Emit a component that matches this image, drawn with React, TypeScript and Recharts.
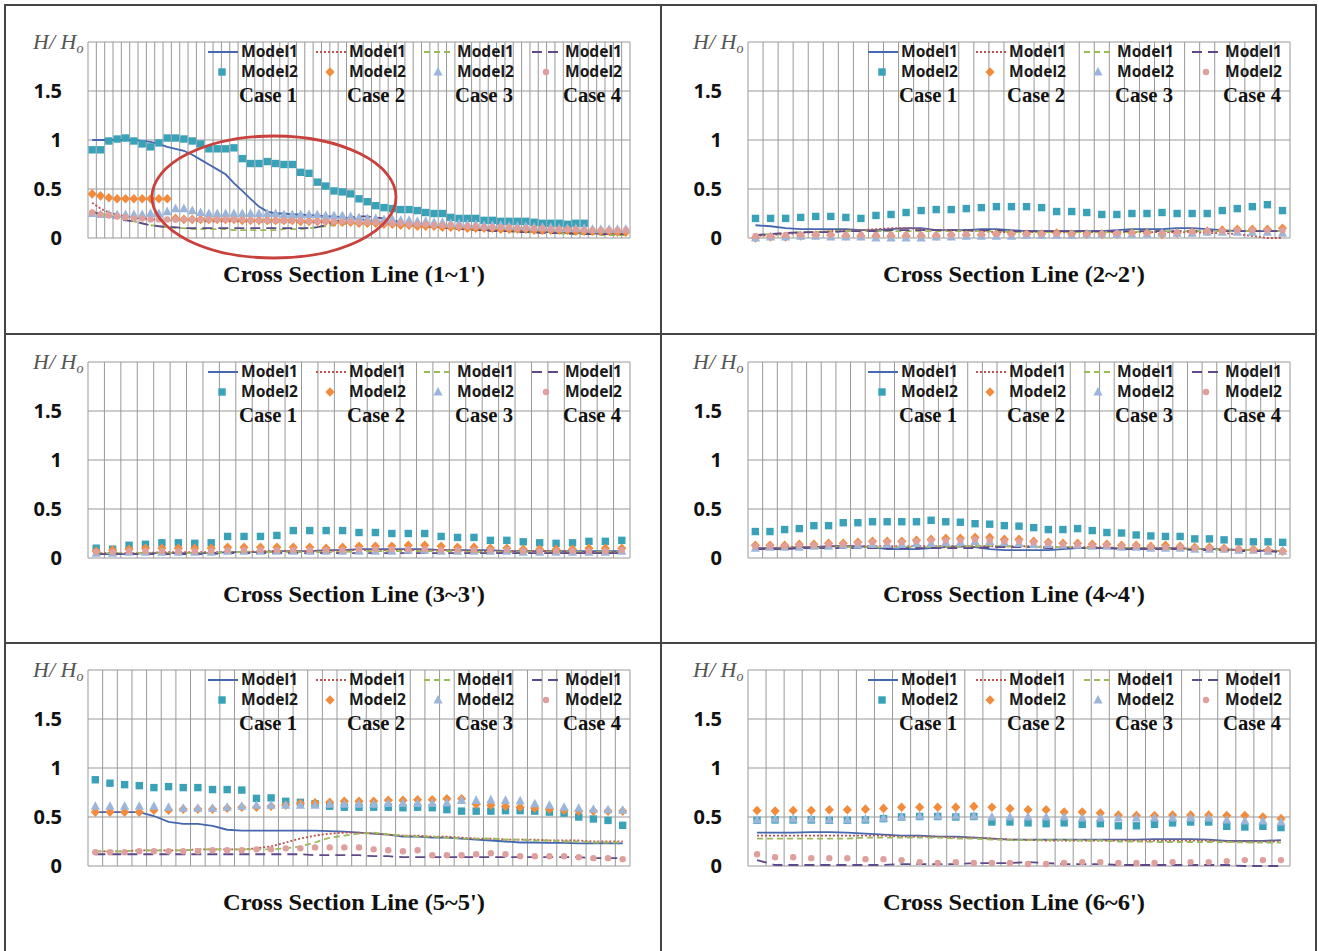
import React from 'react';
import { ComposedChart, Line, XAxis, YAxis, CartesianGrid, Legend } from 'recharts';

// ---------- DATA ----------
// Panel 1 : Cross Section Line (1~1')
const P1_M1C1 = [1.0,1.0,1.0,1.0,1.0,1.0,0.99,0.98,0.96,0.93, 0.91,0.89,0.85,0.80,0.75,0.70,0.65,0.56,0.48,0.40, 0.32,0.27,0.25,0.25,0.24,0.24,0.23,0.23,0.22,0.22, 0.21,0.20,0.19,0.18,0.17,0.16,0.15,0.14,0.13,0.12, 0.12,0.11,0.11,0.10,0.10,0.09,0.09,0.08,0.08,0.08, 0.07,0.07,0.07,0.06,0.06,0.06,0.05,0.05,0.05,0.05, 0.05,0.04,0.04,0.04,0.04];
const P1_M2C1 = [0.90,0.90,0.99,1.01,1.02,0.99,0.96,0.93,0.97,1.02, 1.02,1.01,0.99,0.96,0.91,0.91,0.91,0.92,0.81,0.76, 0.76,0.78,0.76,0.75,0.75,0.67,0.66,0.57,0.53,0.48, 0.47,0.45,0.40,0.37,0.33,0.31,0.30,0.29,0.29,0.28, 0.26,0.25,0.25,0.21,0.20,0.20,0.20,0.18,0.18,0.17, 0.17,0.17,0.17,0.16,0.15,0.15,0.15,0.14,0.15,0.15, null,null,null,null,null];
const P1_M1C2 = [0.36,0.30,0.26,0.24,0.22,0.21,0.20,0.19,0.19,0.18, 0.18,0.18,0.18,0.17,0.17,0.17,0.17,0.17,0.17,0.17, 0.17,0.16,0.16,0.16,0.16,0.16,0.16,0.16,0.16,0.16, 0.16,0.16,0.15,0.15,0.15,0.14,0.14,0.13,0.13,0.12, 0.12,0.11,0.11,0.10,0.10,0.10,0.09,0.09,0.09,0.08, 0.08,0.08,0.07,0.07,0.07,0.07,0.06,0.06,0.06,0.06, 0.06,0.05,0.05,0.05,0.05];
const P1_M2C2 = [0.45,0.43,0.41,0.40,0.40,0.40,0.40,0.40,0.40,0.40, 0.20,0.19,0.19,0.19,0.19,0.19,0.19,0.19,0.18,0.18, 0.18,0.18,0.18,0.18,0.18,0.17,0.17,0.17,0.17,0.16, 0.16,0.16,0.15,0.15,0.15,0.14,0.14,0.13,0.13,0.12, 0.12,0.12,0.11,0.11,0.11,0.10,0.10,0.10,0.10,0.09, 0.09,0.09,0.09,0.08,0.08,0.08,0.08,0.08,0.07,0.07, 0.07,0.07,0.07,0.06,0.06];
const P1_M1C3 = [0.27,0.25,0.23,0.21,0.19,0.17,0.15,0.13,0.12,0.11, 0.10,0.10,0.09,0.09,0.09,0.09,0.09,0.08,0.08,0.08, 0.08,0.08,0.08,0.09,0.09,0.09,0.10,0.11,0.12,0.13, 0.14,0.15,0.15,0.15,0.15,0.14,0.14,0.13,0.13,0.12, 0.12,0.11,0.10,0.10,0.09,0.09,0.08,0.08,0.07,0.07, 0.07,0.06,0.06,0.06,0.05,0.05,0.05,0.04,0.04,0.04, 0.04,0.03,0.03,0.03,0.03];
const P1_M2C3 = [0.25,0.24,0.24,0.24,0.24,0.24,0.24,0.25,0.25,0.27, 0.30,0.30,0.28,0.26,0.25,0.25,0.25,0.25,0.25,0.25, 0.25,0.25,0.25,0.24,0.24,0.24,0.24,0.24,0.23,0.23, 0.23,0.22,0.21,0.20,0.20,0.19,0.19,0.18,0.18,0.17, 0.17,0.16,0.16,0.15,0.15,0.14,0.14,0.13,0.13,0.13, 0.12,0.12,0.12,0.11,0.11,0.11,0.10,0.10,0.10,0.10, 0.09,0.09,0.09,0.09,0.09];
const P1_M1C4 = [0.27,0.24,0.22,0.20,0.18,0.17,0.15,0.13,0.12,0.11, 0.11,0.10,0.10,0.10,0.10,0.10,0.10,0.10,0.10,0.10, 0.10,0.10,0.10,0.10,0.10,0.10,0.10,0.11,0.13,0.16, 0.19,0.21,0.22,0.22,0.21,0.20,0.18,0.16,0.14,0.13, 0.12,0.11,0.10,0.10,0.09,0.09,0.08,0.08,0.07,0.07, 0.07,0.06,0.06,0.06,0.05,0.05,0.05,0.05,0.04,0.04, 0.04,0.04,0.04,0.04,0.04];
const P1_M2C4 = [0.26,0.24,0.23,0.22,0.21,0.20,0.20,0.19,0.19,0.19, 0.19,0.19,0.19,0.19,0.19,0.19,0.19,0.19,0.19,0.18, 0.18,0.18,0.18,0.18,0.18,0.18,0.17,0.17,0.17,0.17, 0.17,0.17,0.16,0.16,0.16,0.15,0.15,0.15,0.14,0.14, 0.14,0.13,0.13,0.13,0.12,0.12,0.12,0.11,0.11,0.11, 0.11,0.10,0.10,0.10,0.10,0.09,0.09,0.09,0.09,0.08, 0.08,0.08,0.08,0.08,0.08];

// Panel 2 : Cross Section Line (2~2')
const P2_M1C1 = [0.13,0.12,0.10,0.09,0.09,0.09,0.09,0.08,0.08,0.09, 0.10,0.10,0.08,0.08,0.08,0.09,0.09,0.08,0.07,0.07, 0.07,0.07,0.07,0.07,0.08,0.09,0.09,0.09,0.10,0.10, 0.09,0.08,0.07,0.07,0.07,0.07];
const P2_M2C1 = [0.20,0.20,0.20,0.21,0.22,0.22,0.21,0.20,0.23,0.24, 0.26,0.28,0.29,0.29,0.30,0.31,0.32,0.32,0.32,0.31, 0.27,0.27,0.26,0.24,0.24,0.25,0.25,0.26,0.25,0.25, 0.25,0.28,0.30,0.32,0.34,0.28];
const P2_M1C2 = [0.02,0.03,0.04,0.05,0.06,0.07,0.08,0.08,0.09,0.10, 0.10,0.09,0.08,0.08,0.07,0.07,0.06,0.06,0.06,0.06, 0.06,0.06,0.06,0.06,0.06,0.06,0.06,0.06,0.06,0.06, 0.05,0.05,0.04,0.02,0.0,0.0];
const P2_M2C2 = [0.0,0.01,0.01,0.02,0.03,0.03,0.02,0.02,0.02,0.02, 0.02,0.02,0.02,0.03,0.03,0.03,0.04,0.04,0.04,0.04, 0.05,0.04,0.04,0.04,0.04,0.05,0.05,0.04,0.05,0.06, 0.07,0.08,0.09,0.09,0.09,0.10];
const P2_M1C3 = [0.03,0.04,0.05,0.06,0.06,0.07,0.07,0.07,0.07,0.07, 0.07,0.07,0.07,0.07,0.07,0.07,0.07,0.06,0.06,0.06, 0.06,0.06,0.06,0.06,0.06,0.06,0.07,0.07,0.07,0.07, 0.07,0.07,0.07,0.07,0.07,0.07];
const P2_M2C3 = [0.0,0.01,0.01,0.02,0.02,0.01,0.01,0.01,0.0,0.0, 0.0,0.0,0.01,0.01,0.02,0.02,0.02,0.02,0.03,0.03, 0.03,0.03,0.04,0.04,0.04,0.04,0.04,0.05,0.05,0.05, 0.06,0.06,0.06,0.06,0.06,0.05];
const P2_M1C4 = [0.03,0.04,0.05,0.06,0.06,0.06,0.07,0.07,0.07,0.08, 0.08,0.08,0.08,0.08,0.08,0.08,0.08,0.07,0.07,0.07, 0.07,0.07,0.07,0.07,0.07,0.07,0.07,0.07,0.07,0.07, 0.07,0.07,0.07,0.07,0.07,0.07];
const P2_M2C4 = [0.02,0.02,0.03,0.03,0.03,0.03,0.03,0.03,0.03,0.03, 0.03,0.03,0.03,0.03,0.04,0.04,0.04,0.04,0.04,0.04, 0.04,0.04,0.04,0.04,0.05,0.05,0.05,0.05,0.06,0.06, 0.07,0.07,0.08,0.08,0.08,0.08];

// Panel 3 : Cross Section Line (3~3')
const P3_M1C1 = [0.04,0.04,0.04,0.05,0.05,0.05,0.05,0.05,0.06,0.06, 0.06,0.07,0.07,0.07,0.08,0.08,0.09,0.09,0.09,0.09, 0.09,0.08,0.08,0.08,0.08,0.07,0.07,0.07,0.07,0.07, 0.07,0.07,0.07];
const P3_M2C1 = [0.10,0.09,0.13,0.14,0.155,0.155,0.15,0.155,0.22,0.22, 0.22,0.23,0.28,0.28,0.28,0.28,0.26,0.26,0.25,0.25, 0.25,0.22,0.21,0.21,0.18,0.18,0.165,0.155,0.15,0.155, 0.17,0.17,0.18];
const P3_M1C2 = [0.05,0.05,0.05,0.05,0.06,0.06,0.06,0.06,0.06,0.06, 0.07,0.07,0.07,0.07,0.07,0.08,0.08,0.08,0.08,0.08, 0.08,0.08,0.08,0.07,0.07,0.07,0.07,0.07,0.07,0.06, 0.06,0.06,0.06];
const P3_M2C2 = [0.07,0.08,0.09,0.10,0.10,0.10,0.10,0.10,0.11,0.11, 0.11,0.11,0.11,0.11,0.10,0.11,0.12,0.12,0.12,0.13, 0.13,0.12,0.11,0.11,0.10,0.10,0.09,0.09,0.09,0.09, 0.10,0.10,0.10];
const P3_M1C3 = [0.05,0.05,0.05,0.05,0.05,0.05,0.05,0.05,0.06,0.06, 0.06,0.06,0.06,0.06,0.06,0.06,0.07,0.07,0.07,0.07, 0.07,0.07,0.07,0.06,0.06,0.06,0.06,0.06,0.06,0.06, 0.06,0.06,0.06];
const P3_M2C3 = [0.05,0.05,0.06,0.06,0.06,0.06,0.06,0.06,0.07,0.07, 0.07,0.07,0.07,0.07,0.07,0.07,0.07,0.07,0.07,0.08, 0.08,0.07,0.07,0.07,0.07,0.07,0.06,0.06,0.06,0.06, 0.06,0.06,0.07];
const P3_M1C4 = [0.04,0.04,0.04,0.04,0.04,0.04,0.04,0.04,0.05,0.05, 0.05,0.05,0.05,0.05,0.05,0.05,0.05,0.05,0.05,0.05, 0.05,0.05,0.05,0.05,0.05,0.05,0.05,0.05,0.05,0.05, 0.05,0.05,0.05];
const P3_M2C4 = [0.06,0.06,0.07,0.07,0.07,0.07,0.07,0.07,0.08,0.08, 0.08,0.08,0.08,0.08,0.08,0.08,0.09,0.09,0.09,0.09, 0.09,0.08,0.08,0.08,0.08,0.08,0.07,0.07,0.07,0.07, 0.07,0.07,0.08];

// Panel 4 : Cross Section Line (4~4')
const P4_M1C1 = [0.10,0.10,0.10,0.11,0.11,0.12,0.12,0.12,0.11,0.09, 0.09,0.09,0.10,0.11,0.12,0.11,0.09,0.08,0.08,0.08, 0.08,0.09,0.10,0.10,0.10,0.10,0.10,0.10,0.10,0.10, 0.09,0.09,0.09,0.08,0.08,0.07,0.07];
const P4_M2C1 = [0.27,0.27,0.29,0.30,0.33,0.33,0.36,0.36,0.37,0.37, 0.37,0.37,0.385,0.37,0.365,0.35,0.345,0.33,0.325,0.31, 0.29,0.29,0.30,0.28,0.26,0.255,0.235,0.225,0.22,0.22, 0.195,0.195,0.185,0.165,0.165,0.165,0.16];
const P4_M1C2 = [0.10,0.10,0.11,0.11,0.11,0.12,0.12,0.12,0.12,0.12, 0.12,0.12,0.12,0.12,0.12,0.12,0.12,0.12,0.12,0.12, 0.11,0.11,0.11,0.11,0.11,0.10,0.10,0.10,0.10,0.10, 0.09,0.09,0.09,0.08,0.08,0.08,0.07];
const P4_M2C2 = [0.13,0.13,0.13,0.14,0.14,0.15,0.15,0.16,0.17,0.17, 0.17,0.18,0.19,0.20,0.20,0.21,0.21,0.19,0.19,0.17, 0.16,0.15,0.15,0.14,0.14,0.13,0.13,0.12,0.13,0.12, 0.11,0.11,0.10,0.09,0.09,0.08,0.07];
const P4_M1C3 = [0.09,0.09,0.10,0.10,0.10,0.11,0.11,0.11,0.11,0.11, 0.11,0.11,0.11,0.11,0.12,0.12,0.12,0.12,0.12,0.11, 0.11,0.11,0.11,0.10,0.10,0.10,0.10,0.10,0.09,0.09, 0.09,0.09,0.08,0.08,0.08,0.07,0.07];
const P4_M2C3 = [0.10,0.11,0.11,0.11,0.12,0.12,0.13,0.13,0.14,0.14, 0.14,0.15,0.15,0.16,0.16,0.17,0.17,0.16,0.15,0.14, 0.14,0.13,0.13,0.12,0.12,0.11,0.11,0.10,0.10,0.10, 0.09,0.09,0.09,0.08,0.08,0.07,0.07];
const P4_M1C4 = [0.09,0.09,0.09,0.10,0.10,0.10,0.10,0.10,0.10,0.10, 0.10,0.10,0.10,0.10,0.10,0.10,0.11,0.11,0.11,0.11, 0.10,0.10,0.10,0.10,0.10,0.09,0.09,0.09,0.09,0.09, 0.08,0.08,0.08,0.07,0.07,0.07,0.06];
const P4_M2C4 = [0.12,0.12,0.12,0.13,0.13,0.14,0.14,0.15,0.16,0.16, 0.16,0.17,0.18,0.18,0.18,0.19,0.18,0.17,0.17,0.16, 0.15,0.14,0.14,0.13,0.13,0.12,0.12,0.11,0.11,0.11, 0.10,0.10,0.09,0.09,0.08,0.08,0.07];

// Panel 5 : Cross Section Line (5~5')
const P5_M1C1 = [0.55,0.55,0.55,0.55,0.51,0.45,0.43,0.43,0.41,0.37, 0.36,0.36,0.36,0.36,0.36,0.36,0.355,0.35,0.34,0.33, 0.32,0.30,0.30,0.29,0.29,0.28,0.27,0.26,0.25,0.24, 0.24,0.235,0.235,0.23,0.23,0.23,0.23];
const P5_M2C1 = [0.88,0.845,0.83,0.82,0.80,0.81,0.80,0.80,0.78,0.78, 0.775,0.69,0.695,0.66,0.65,0.635,0.61,0.60,0.60,0.60, 0.60,0.595,0.60,0.595,0.575,0.56,0.56,0.56,0.565,0.565, 0.56,0.55,0.54,0.50,0.48,0.465,0.415];
const P5_M1C2 = [0.15,0.15,0.15,0.16,0.16,0.16,0.16,0.17,0.17,0.17, 0.17,0.18,0.20,0.24,0.28,0.31,0.33,0.34,0.34,0.33, 0.32,0.31,0.31,0.30,0.30,0.29,0.28,0.28,0.27,0.27, 0.27,0.26,0.26,0.26,0.25,0.25,0.25];
const P5_M2C2 = [0.55,0.55,0.55,0.55,0.57,0.57,0.58,0.58,0.58,0.59, 0.60,0.60,0.61,0.62,0.64,0.645,0.65,0.66,0.66,0.66, 0.67,0.67,0.675,0.675,0.685,0.685,0.63,0.62,0.61,0.60, 0.59,0.58,0.57,0.56,0.56,0.56,0.56];
const P5_M1C3 = [0.15,0.15,0.15,0.16,0.16,0.16,0.16,0.17,0.17,0.17, 0.17,0.17,0.17,0.18,0.20,0.24,0.29,0.31,0.33,0.34, 0.32,0.31,0.30,0.30,0.29,0.28,0.28,0.28,0.27,0.27, 0.26,0.26,0.25,0.25,0.24,0.24,0.24];
const P5_M2C3 = [0.61,0.61,0.61,0.61,0.61,0.60,0.59,0.59,0.59,0.60, 0.61,0.62,0.62,0.62,0.62,0.62,0.63,0.63,0.63,0.63, 0.64,0.64,0.64,0.64,0.645,0.67,0.67,0.675,0.67,0.665, 0.635,0.62,0.60,0.59,0.58,0.575,0.57];
const P5_M1C4 = [0.12,0.12,0.12,0.12,0.12,0.12,0.12,0.12,0.12,0.12, 0.12,0.12,0.12,0.12,0.12,0.11,0.11,0.11,0.11,0.10, 0.10,0.09,0.09,0.09,0.09,0.09,0.09,0.09,0.09,0.09, 0.09,0.09,0.09,0.09,0.08,0.08,0.08];
const P5_M2C4 = [0.14,0.14,0.14,0.15,0.15,0.15,0.15,0.15,0.16,0.16, 0.16,0.17,0.17,0.18,0.18,0.19,0.19,0.19,0.19,0.17, 0.16,0.15,0.16,0.11,0.11,0.11,0.12,0.13,0.12,0.10, 0.10,0.10,0.10,0.09,0.08,0.08,0.07];

// Panel 6 : Cross Section Line (6~6')
const P6_M1C1 = [0.34,0.34,0.34,0.345,0.345,0.34,0.33,0.32,0.31,0.31, 0.30,0.30,0.29,0.28,0.27,0.27,0.27,0.27,0.27,0.27, 0.27,0.27,0.275,0.275,0.275,0.27,0.255,0.255,0.255,0.265];
const P6_M2C1 = [0.466,0.47,0.47,0.47,0.466,0.466,0.47,0.483,0.50,0.505, 0.505,0.50,0.505,0.449,0.449,0.44,0.432,0.44,0.425,0.432, 0.41,0.41,0.425,0.44,0.449,0.449,0.405,0.398,0.405,0.392];
const P6_M1C2 = [0.31,0.31,0.31,0.31,0.31,0.31,0.31,0.31,0.30,0.30, 0.30,0.29,0.29,0.28,0.27,0.265,0.26,0.26,0.26,0.26, 0.26,0.26,0.26,0.26,0.26,0.26,0.25,0.25,0.25,0.25];
const P6_M2C2 = [0.567,0.56,0.567,0.567,0.574,0.574,0.58,0.588,0.60,0.60, 0.60,0.60,0.608,0.60,0.585,0.574,0.574,0.55,0.55,0.54, 0.52,0.515,0.515,0.52,0.52,0.52,0.515,0.515,0.50,0.483];
const P6_M1C3 = [0.28,0.28,0.28,0.28,0.28,0.28,0.29,0.29,0.29,0.29, 0.29,0.28,0.28,0.27,0.265,0.265,0.265,0.265,0.26,0.26, 0.25,0.25,0.245,0.245,0.245,0.245,0.245,0.24,0.24,0.24];
const P6_M2C3 = [0.47,0.48,0.48,0.48,0.47,0.47,0.48,0.49,0.50,0.51, 0.51,0.51,0.51,0.50,0.50,0.50,0.50,0.50,0.49,0.49, 0.49,0.49,0.49,0.49,0.49,0.49,0.47,0.46,0.46,0.45];
const P6_M1C4 = [0.06,0.01,0.01,0.01,0.01,0.01,0.01,0.01,0.02,0.02, 0.02,0.02,0.03,0.03,0.03,0.04,0.03,0.02,0.02,0.02, 0.01,0.01,0.01,0.01,0.01,0.01,0.01,0.0,0.0,0.0];
const P6_M2C4 = [0.12,0.09,0.09,0.08,0.08,0.08,0.07,0.07,0.06,0.04, 0.03,0.04,0.03,0.03,0.03,0.02,0.02,0.03,0.04,0.04, 0.03,0.03,0.03,0.04,0.04,0.04,0.05,0.06,0.06,0.06];

const Y_TICKS = [0, 0.5, 1, 1.5, 2];
const Y_TICK_LABELS = ['0', '0.5', '1', '1.5', ''];
const CASE_LABELS = ['Case 1', 'Case 2', 'Case 3', 'Case 4'];
const MODEL_LABELS = ['Model1', 'Model2'];
const PANEL_TITLES = [
  "Cross Section Line (1~1')",
  "Cross Section Line (2~2')",
  "Cross Section Line (3~3')",
  "Cross Section Line (4~4')",
  "Cross Section Line (5~5')",
  "Cross Section Line (6~6')",
];

// ---------- STYLE ----------
const LINE_COLORS = ['#4467AE', '#C0504D', '#9BBB59', '#5E4A8A'];
const LINE_DASH = [undefined, '2 2', '6 4', '10 6'];
const MARK_COLORS = ['#39A2B8', '#F28C3C', '#9CB6DB', '#DFA09D'];
const GRID = '#999999';

const CHART_W = 660;
const CHART_H = 300;
const PLOT_TOP = 42;
const PLOT_BOTTOM_MARGIN = 62;

type Shape = 'square' | 'diamond' | 'triangle' | 'circle';
const SHAPES: Shape[] = ['square', 'diamond', 'triangle', 'circle'];

function markerEl(shape: Shape, cx: number, cy: number, fill: string, key?: string) {
  if (shape === 'square') return <rect key={key} x={cx - 3.7} y={cy - 3.7} width={7.4} height={7.4} fill={fill} />;
  if (shape === 'diamond') return <polygon key={key} points={`${cx},${cy - 4.8} ${cx + 4.6},${cy} ${cx},${cy + 4.8} ${cx - 4.6},${cy}`} fill={fill} />;
  if (shape === 'triangle') return <polygon key={key} points={`${cx},${cy - 5} ${cx + 4.6},${cy + 3.6} ${cx - 4.6},${cy + 3.6}`} fill={fill} />;
  return <circle key={key} cx={cx} cy={cy} r={3.2} fill={fill} />;
}

const makeDot = (shape: Shape, fill: string) => (props: any) => {
  const { cx, cy, value, index } = props;
  if (value == null || cx == null || cy == null || isNaN(cy)) return <g key={`e-${index}`} />;
  return markerEl(shape, cx, cy, fill, `d-${index}`);
};

const YTick = (props: any) => {
  const { x, y, payload } = props;
  const idx = Y_TICKS.indexOf(payload.value);
  if (payload.value === 2) {
    return (
      <text x={x - 29} y={y + 7} fontFamily="Liberation Serif" fontStyle="italic" fontSize={22} fill="#555">
        H/ H<tspan fontSize={14} dy={4}>o</tspan>
      </text>
    );
  }
  return (
    <text x={x} y={y + 7} textAnchor="end" fontFamily="Noto Sans" fontWeight={700} fontSize={20} fill="#111">
      {Y_TICK_LABELS[idx]}
    </text>
  );
};

const LegendSvg = ({ title }: { title: string }) => (
  <svg width={CHART_W} height={CHART_H} style={{ position: 'absolute', left: 0, top: 0, pointerEvents: 'none' }}>
    {CASE_LABELS.map((c, k) => {
      const x0 = 208 + 108 * k;
      return (
        <g key={c}>
          <line x1={x0} x2={x0 + 30} y1={52} y2={52} stroke={LINE_COLORS[k]} strokeWidth={2} strokeDasharray={LINE_DASH[k]} />
          <text x={x0 + 33} y={57} fontFamily="Noto Sans" fontWeight={700} fontSize={15.5} fill="#1a1a1a" textLength={57} lengthAdjust="spacingAndGlyphs">{MODEL_LABELS[0]}</text>
          {markerEl(SHAPES[k], x0 + 14, 72, MARK_COLORS[k])}
          <text x={x0 + 33} y={77} fontFamily="Noto Sans" fontWeight={700} fontSize={15.5} fill="#1a1a1a" textLength={57} lengthAdjust="spacingAndGlyphs">{MODEL_LABELS[1]}</text>
          <text x={x0 + 89} y={102} textAnchor="end" fontFamily="Liberation Serif" fontWeight={700} fontSize={20.5} fill="#111" textLength={58} lengthAdjust="spacingAndGlyphs">{c}</text>
        </g>
      );
    })}
    <text x={354} y={CHART_H - PLOT_BOTTOM_MARGIN + 44} textAnchor="middle" fontFamily="Liberation Serif" fontWeight={700} fontSize={23} fill="#111" textLength={262} lengthAdjust="spacingAndGlyphs">
      {title}
    </text>
  </svg>
);

type PanelProps = { title: string; left: number; top: number; series: (number | null)[][] };

const Panel = ({ title, left, top, series }: PanelProps) => {
  const n = series[0].length;
  const rows = series[0].map((_, i) => ({
    x: i + 0.5,
    m1c1: series[0][i], m2c1: series[1][i],
    m1c2: series[2][i], m2c2: series[3][i],
    m1c3: series[4][i], m2c3: series[5][i],
    m1c4: series[6][i], m2c4: series[7][i],
  }));
  const xTicks = Array.from({ length: n + 1 }, (_, i) => i);
  const vGen = (args: any) => {
    const sc = args?.xAxis?.scale;
    if (typeof sc === 'function') return xTicks.map((t) => sc(t));
    const off = args.offset;
    return xTicks.map((t) => off.left + (t / n) * off.width);
  };
  return (
    <div style={{ position: 'absolute', left, top, width: CHART_W, height: CHART_H }}>
      <ComposedChart width={CHART_W} height={CHART_H} data={rows} margin={{ top: PLOT_TOP, right: 30, bottom: PLOT_BOTTOM_MARGIN - 1, left: 0 }}>
        <CartesianGrid stroke={GRID} strokeWidth={1} verticalCoordinatesGenerator={vGen} />
        <XAxis type="number" dataKey="x" domain={[0, n]} ticks={xTicks} interval={0} tick={() => <g />} tickLine={false} axisLine={false} height={1} />
        <YAxis type="number" domain={[0, 2]} ticks={Y_TICKS} interval={0} tick={<YTick />} tickLine={false} axisLine={false} width={88} tickMargin={20} />
        {[0, 1, 2, 3].map((k) => (
          <Line key={`m2-${k}`} dataKey={`m2c${k + 1}`} stroke="none" dot={makeDot(SHAPES[k], MARK_COLORS[k])} activeDot={false} isAnimationActive={false} legendType="none" />
        ))}
        {[0, 1, 2, 3].map((k) => (
          <Line key={`m1-${k}`} dataKey={`m1c${k + 1}`} stroke={LINE_COLORS[k]} strokeWidth={1.8} strokeDasharray={LINE_DASH[k]} dot={false} activeDot={false} isAnimationActive={false} connectNulls type="linear" />
        ))}
        <Legend verticalAlign="middle" align="center" layout="horizontal" wrapperStyle={{ left: 0, top: 0, width: CHART_W, height: CHART_H }} content={() => <LegendSvg title={title} />} />
      </ComposedChart>
    </div>
  );
};

const PANELS: PanelProps[] = [
  { title: PANEL_TITLES[0], left: 0, top: 0, series: [P1_M1C1, P1_M2C1, P1_M1C2, P1_M2C2, P1_M1C3, P1_M2C3, P1_M1C4, P1_M2C4] },
  { title: PANEL_TITLES[1], left: 660, top: 0, series: [P2_M1C1, P2_M2C1, P2_M1C2, P2_M2C2, P2_M1C3, P2_M2C3, P2_M1C4, P2_M2C4] },
  { title: PANEL_TITLES[2], left: 0, top: 320, series: [P3_M1C1, P3_M2C1, P3_M1C2, P3_M2C2, P3_M1C3, P3_M2C3, P3_M1C4, P3_M2C4] },
  { title: PANEL_TITLES[3], left: 660, top: 320, series: [P4_M1C1, P4_M2C1, P4_M1C2, P4_M2C2, P4_M1C3, P4_M2C3, P4_M1C4, P4_M2C4] },
  { title: PANEL_TITLES[4], left: 0, top: 628, series: [P5_M1C1, P5_M2C1, P5_M1C2, P5_M2C2, P5_M1C3, P5_M2C3, P5_M1C4, P5_M2C4] },
  { title: PANEL_TITLES[5], left: 660, top: 628, series: [P6_M1C1, P6_M2C1, P6_M1C2, P6_M2C2, P6_M1C3, P6_M2C3, P6_M1C4, P6_M2C4] },
];

const BORDER = '#454545';

export default function App() {
  return (
    <div style={{ position: 'absolute', left: 0, top: 0, width: 1319, height: 951, background: '#fff', overflow: 'hidden' }}>
      {PANELS.map((p) => <Panel key={p.title} {...p} />)}
      {/* table borders */}
      <div style={{ position: 'absolute', left: 4, top: 4, width: 1313, height: 2, background: BORDER }} />
      <div style={{ position: 'absolute', left: 4, top: 4, width: 2, height: 947, background: BORDER }} />
      <div style={{ position: 'absolute', left: 1315, top: 4, width: 2, height: 947, background: BORDER }} />
      <div style={{ position: 'absolute', left: 660, top: 4, width: 1.5, height: 947, background: BORDER }} />
      <div style={{ position: 'absolute', left: 4, top: 333, width: 1313, height: 1.5, background: BORDER }} />
      <div style={{ position: 'absolute', left: 4, top: 642, width: 1313, height: 1.5, background: BORDER }} />
      {/* highlight ellipse annotation */}
      <svg width={1319} height={951} style={{ position: 'absolute', left: 0, top: 0, pointerEvents: 'none' }}>
        <ellipse cx={274} cy={197} rx={122} ry={61} fill="none" stroke="#C8413C" strokeWidth={2.8} />
      </svg>
    </div>
  );
}
